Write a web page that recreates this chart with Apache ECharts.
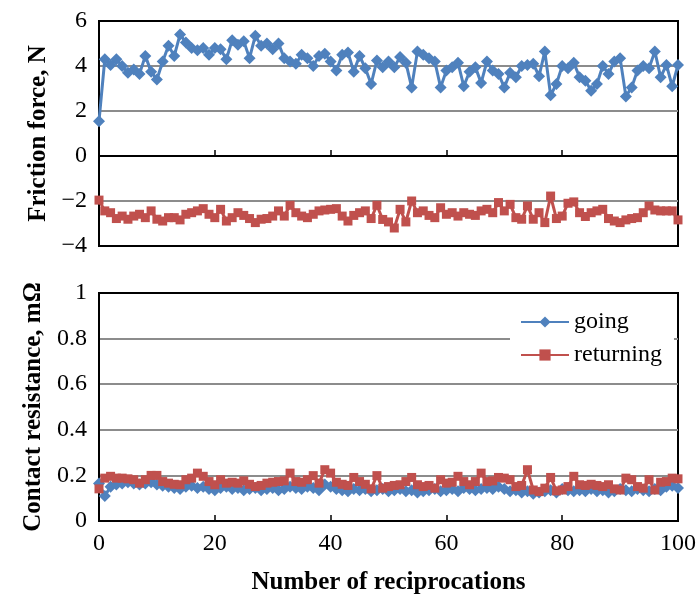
<!DOCTYPE html>
<html>
<head>
<meta charset="utf-8">
<script src="https://cdn.jsdelivr.net/npm/echarts@6/dist/echarts.min.js"></script>
<style>
  html, body { margin: 0; padding: 0; background: #fff; }
  #chart { width: 699px; height: 597px; }
</style>
</head>
<body>
<div id="chart"></div>
<script>
// 摩擦力 (N)
var goingFriction = [1.55, 4.3, 4.05, 4.3, 4.0, 3.7, 3.85, 3.65, 4.45, 3.75,
    3.4, 4.2, 4.9, 4.45, 5.4, 5.05, 4.8, 4.7, 4.8, 4.5,
    4.8, 4.75, 4.3, 5.15, 4.95, 5.1, 4.35, 5.35, 4.9, 5.0,
    4.75, 5.0, 4.35, 4.2, 4.1, 4.5, 4.35, 4.0, 4.45, 4.55,
    4.2, 3.8, 4.5, 4.6, 3.75, 4.45, 3.9, 3.2, 4.25, 3.95,
    4.2, 3.95, 4.4, 4.15, 3.05, 4.65, 4.5, 4.35, 4.2, 3.05,
    3.8, 3.95, 4.15, 3.1, 3.75, 3.95, 3.25, 4.2, 3.8, 3.65,
    3.05, 3.7, 3.5, 4.0, 4.05, 4.1, 3.55, 4.65, 2.7, 3.2,
    4.0, 3.9, 4.15, 3.5, 3.35, 2.9, 3.2, 4.0, 3.65, 4.2,
    4.35, 2.65, 3.05, 3.8, 4.0, 3.9, 4.65, 3.5, 4.05, 3.1,
    4.05];
var returningFriction = [-1.96, -2.44, -2.52, -2.78, -2.67, -2.81, -2.67, -2.59, -2.74, -2.44,
    -2.81, -2.89, -2.74, -2.74, -2.84, -2.59, -2.52, -2.44, -2.34, -2.59,
    -2.74, -2.37, -2.89, -2.74, -2.52, -2.64, -2.78, -2.96, -2.81, -2.78,
    -2.67, -2.44, -2.67, -2.19, -2.52, -2.67, -2.74, -2.59, -2.44, -2.40,
    -2.37, -2.34, -2.67, -2.89, -2.64, -2.52, -2.44, -2.78, -2.19, -2.82,
    -2.93, -3.2, -2.37, -2.93, -2.0, -2.52, -2.44, -2.64, -2.74, -2.30,
    -2.59, -2.52, -2.67, -2.52, -2.59, -2.64, -2.44, -2.37, -2.52, -2.07,
    -2.44, -2.15, -2.74, -2.81, -2.22, -2.81, -2.52, -2.96, -1.78, -2.78,
    -2.67, -2.10, -2.04, -2.52, -2.69, -2.52, -2.44, -2.37, -2.78, -2.89,
    -2.96, -2.84, -2.78, -2.74, -2.52, -2.22, -2.40, -2.44, -2.44, -2.44,
    -2.84];
// 接触电阻 (mΩ)
var goingResistance = [0.165, 0.11, 0.15, 0.16, 0.165, 0.17, 0.165, 0.16, 0.165, 0.17,
    0.16, 0.155, 0.15, 0.145, 0.14, 0.15, 0.155, 0.145, 0.15, 0.14,
    0.135, 0.145, 0.15, 0.14, 0.145, 0.135, 0.14, 0.145, 0.135, 0.14,
    0.145, 0.135, 0.14, 0.15, 0.145, 0.14, 0.15, 0.145, 0.135, 0.16,
    0.15, 0.14, 0.135, 0.13, 0.14, 0.135, 0.14, 0.13, 0.135, 0.14,
    0.13, 0.135, 0.14, 0.13, 0.135, 0.125, 0.13, 0.135, 0.14, 0.13,
    0.135, 0.14, 0.13, 0.145, 0.14, 0.135, 0.14, 0.145, 0.14, 0.15,
    0.14, 0.13, 0.135, 0.125, 0.13, 0.12, 0.125, 0.13, 0.135, 0.125,
    0.14, 0.135, 0.13, 0.135, 0.13, 0.14, 0.13, 0.135, 0.125, 0.13,
    0.14, 0.135, 0.13, 0.14, 0.135, 0.13, 0.14, 0.135, 0.15, 0.155,
    0.145];
var returningResistance = [0.141, 0.188, 0.196, 0.188, 0.188, 0.185, 0.181, 0.166, 0.181, 0.2,
    0.2, 0.173, 0.166, 0.161, 0.159, 0.181, 0.188, 0.21, 0.196, 0.173,
    0.159, 0.181, 0.166, 0.17, 0.166, 0.176, 0.161, 0.151, 0.156, 0.166,
    0.17, 0.173, 0.176, 0.21, 0.173, 0.17, 0.181, 0.199, 0.166, 0.225,
    0.21, 0.17, 0.161, 0.156, 0.191, 0.173, 0.161, 0.141, 0.199, 0.144,
    0.151, 0.156, 0.159, 0.173, 0.191, 0.159, 0.151, 0.156, 0.144, 0.181,
    0.166, 0.17, 0.196, 0.173, 0.159, 0.173, 0.21, 0.173, 0.176, 0.191,
    0.188, 0.181, 0.151, 0.156, 0.225, 0.136, 0.129, 0.144, 0.191, 0.132,
    0.136, 0.151, 0.196, 0.159, 0.156, 0.161, 0.156, 0.151, 0.159, 0.141,
    0.136, 0.188, 0.181, 0.151, 0.144, 0.181, 0.136, 0.17, 0.173, 0.188,
    0.185];

var blue = '#4F81BD', red = '#C0504D';
var serif = 'Liberation Serif';
var fs = 24;      // 刻度、图例字号
var titleFs = 25; // 轴标题字号

function pairs(arr) {
    return arr.map(function (v, i) { return [i, v]; });
}
function minus(v) {
    return String(v).replace('-', '\u2212');
}

var myChart = echarts.init(document.getElementById('chart'));
var option = {
    animation: false,
    grid: [
        {left: 99, top: 21, width: 579, height: 225, show: true, borderColor: '#000', borderWidth: 2},
        {left: 99, top: 293, width: 579, height: 228, show: true, borderColor: '#000', borderWidth: 2}
    ],
    legend: {
        orient: 'vertical',
        left: 510,
        top: 306,
        backgroundColor: '#fff',
        padding: [4, 12, 4, 10],
        itemGap: 9,
        itemWidth: 48,
        itemHeight: 14,
        textStyle: {fontFamily: serif, fontSize: fs, color: '#000'},
        data: ['going', 'returning']
    },
    xAxis: [
        {
            gridIndex: 0, type: 'value', min: 0, max: 100, interval: 20,
            axisLine: {onZero: true, lineStyle: {color: '#000', width: 2}},
            axisTick: {inside: true, length: 6, lineStyle: {color: '#000', width: 1.5}},
            axisLabel: {show: false},
            splitLine: {show: false}
        },
        {
            gridIndex: 1, type: 'value', min: 0, max: 100, interval: 20,
            axisLine: {lineStyle: {color: '#000', width: 2}},
            axisTick: {inside: true, length: 6, lineStyle: {color: '#000', width: 1.5}},
            axisLabel: {fontFamily: serif, fontSize: fs, color: '#000', margin: 11},
            splitLine: {show: false},
            name: 'Number of reciprocations',
            nameLocation: 'middle',
            nameGap: 49,
            nameTextStyle: {fontFamily: serif, fontSize: titleFs, fontWeight: 'bold', color: '#000'}
        }
    ],
    yAxis: [
        {
            gridIndex: 0, type: 'value', min: -4, max: 6, interval: 2,
            axisLine: {lineStyle: {color: '#000', width: 2}},
            axisTick: {show: false},
            axisLabel: {fontFamily: serif, fontSize: fs, color: '#000', margin: 12, formatter: minus},
            splitLine: {showMinLine: false, showMaxLine: false, lineStyle: {color: '#8c8c8c', width: 2}},
            name: 'Friction force, N',
            nameLocation: 'middle',
            nameGap: 47,
            nameTextStyle: {fontFamily: serif, fontSize: titleFs, fontWeight: 'bold', color: '#000'}
        },
        {
            gridIndex: 1, type: 'value', min: 0, max: 1, interval: 0.2,
            axisLine: {lineStyle: {color: '#000', width: 2}},
            axisTick: {show: false},
            axisLabel: {fontFamily: serif, fontSize: fs, color: '#000', margin: 12},
            splitLine: {showMinLine: false, showMaxLine: false, lineStyle: {color: '#8c8c8c', width: 2}},
            name: 'Contact resistance, mΩ',
            nameLocation: 'middle',
            nameGap: 47,
            nameTextStyle: {fontFamily: serif, fontSize: titleFs, fontWeight: 'bold', color: '#000'}
        }
    ],
    series: [
        {
            name: 'going', type: 'line', xAxisIndex: 0, yAxisIndex: 0,
            data: pairs(goingFriction),
            symbol: 'diamond', symbolSize: 12,
            lineStyle: {color: blue, width: 3},
            itemStyle: {color: blue}
        },
        {
            name: 'returning', type: 'line', xAxisIndex: 0, yAxisIndex: 0,
            data: pairs(returningFriction),
            symbol: 'rect', symbolSize: 9,
            lineStyle: {color: red, width: 3},
            itemStyle: {color: red}
        },
        {
            name: 'going', type: 'line', xAxisIndex: 1, yAxisIndex: 1,
            data: pairs(goingResistance),
            symbol: 'diamond', symbolSize: 12,
            lineStyle: {color: blue, width: 3},
            itemStyle: {color: blue}
        },
        {
            name: 'returning', type: 'line', xAxisIndex: 1, yAxisIndex: 1,
            data: pairs(returningResistance),
            symbol: 'rect', symbolSize: 9,
            lineStyle: {color: red, width: 3},
            itemStyle: {color: red}
        }
    ]
};
myChart.setOption(option);
window.addEventListener('resize', function () {myChart.resize();});
</script>
</body>
</html>
